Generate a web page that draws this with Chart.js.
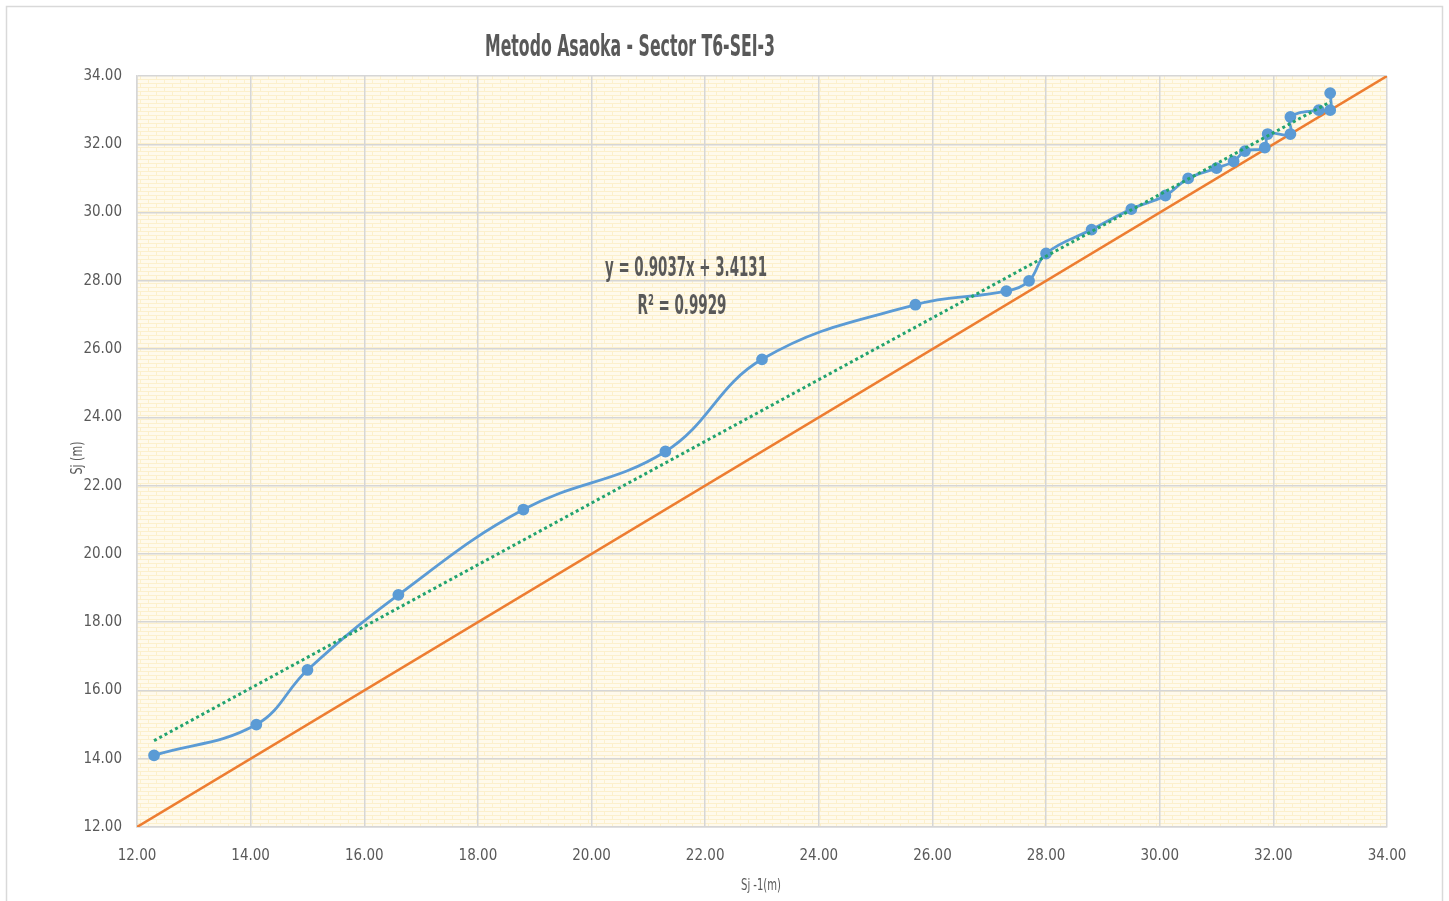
<!DOCTYPE html>
<html>
<head>
<meta charset="utf-8">
<script src="https://cdn.jsdelivr.net/npm/chart.js@4"></script>
<style>
  html, body { margin: 0; padding: 0; background: #ffffff; }
  #wrap { position: relative; width: 1449px; height: 901px; }
  canvas { display: block; }
</style>
</head>
<body>
<div id="wrap"><canvas id="c" width="1449" height="901"></canvas></div>
<script>
// ---- data ----
const chartTitle = "Metodo Asaoka - Sector T6-SEI-3";
const xAxisTitle = "Sj -1(m)";
const yAxisTitle = "Sj (m)";
const equationLine1 = "y = 0.9037x + 3.4131";
const equationLine2 = "R² = 0.9929";

// S(j-1) and S(j), metres
const sjPrev = [12.3, 14.1, 15.0, 16.6, 18.8, 21.3, 23.0, 25.7, 27.3, 27.7, 28.0, 28.8, 29.5, 30.1, 30.5, 31.0, 31.3, 31.5, 31.85, 31.9, 32.3, 32.3, 32.8, 33.0, 33.0];
const sj     = [14.1, 15.0, 16.6, 18.8, 21.3, 23.0, 25.7, 27.3, 27.7, 28.0, 28.8, 29.5, 30.1, 30.5, 31.0, 31.3, 31.5, 31.8, 31.9, 32.3, 32.3, 32.8, 33.0, 33.0, 33.5];

// 45° reference line endpoints (Sj = Sj-1)
const refLineX = [12, 34];
const refLineY = [12, 34];

// linear trend line endpoints as drawn in the reference
const trendX = [12.3, 33.0];
const trendY = [14.53, 33.24];

// axis ticks
const axisMin = 12, axisMax = 34, axisStep = 2;

// ---- build ----
const FONT = '"DejaVu Sans Condensed", "Liberation Sans Narrow", sans-serif';
const TXT = '#595959';

function pairs(xs, ys) { return xs.map((x, i) => ({ x: x, y: ys[i] })); }

function makePattern(ctx) {
  const p = document.createElement('canvas');
  p.width = 16; p.height = 8;
  const g = p.getContext('2d');
  g.fillStyle = '#fffaec';
  g.fillRect(0, 0, 16, 8);
  g.fillStyle = '#fcf0cc';
  g.fillRect(0, 3, 16, 1);
  g.fillRect(0, 7, 16, 1);
  g.fillRect(4, 0, 1, 3);
  g.fillRect(12, 4, 1, 3);
  return ctx.createPattern(p, 'repeat');
}

// draw text horizontally compressed to a target width (reference uses a narrow face)
function fitText(ctx, text, cx, cy, width) {
  const w = ctx.measureText(text).width;
  const k = Math.min(1, width / w);
  ctx.save();
  ctx.translate(cx, cy);
  ctx.scale(k, 1);
  ctx.fillText(text, 0, 0);
  ctx.restore();
}

const decor = {
  id: 'decor',
  beforeDraw(chart) {
    const ctx = chart.ctx;
    const a = chart.chartArea;
    ctx.save();
    ctx.fillStyle = '#ffffff';
    ctx.fillRect(0, 0, chart.width, chart.height);
    ctx.strokeStyle = '#d9d9d9';
    ctx.lineWidth = 1.5;
    ctx.strokeRect(6.5, 6.5, chart.width - 13, chart.height + 20);
    ctx.fillStyle = makePattern(ctx);
    ctx.fillRect(a.left, a.top, a.right - a.left, a.bottom - a.top);
    ctx.restore();
  },
  afterDraw(chart) {
    const ctx = chart.ctx;
    ctx.save();
    ctx.fillStyle = TXT;
    ctx.textAlign = 'center';
    ctx.textBaseline = 'middle';
    // title
    ctx.font = 'bold 31px ' + FONT;
    fitText(ctx, chartTitle, 630, 48, 290);
    // equation
    ctx.font = 'bold 26px ' + FONT;
    fitText(ctx, equationLine1, 686, 269, 162);
    fitText(ctx, equationLine2, 682, 307, 89);
    // axis titles
    ctx.font = '15px ' + FONT;
    fitText(ctx, xAxisTitle, 761, 886, 40);
    ctx.translate(78, 458);
    ctx.rotate(-Math.PI / 2);
    fitText(ctx, yAxisTitle, 0, 0, 33);
    ctx.restore();
  }
};

const ctx = document.getElementById('c').getContext('2d');
new Chart(ctx, {
  type: 'scatter',
  data: {
    datasets: [
      {
        label: 'Sj',
        data: pairs(sjPrev, sj),
        showLine: true,
        tension: 0.4,
        borderColor: '#5b9bd5',
        backgroundColor: '#5b9bd5',
        borderWidth: 2.8,
        pointRadius: 4.5,
        pointHoverRadius: 4.5,
        order: 1
      },
      {
        label: 'Lineal',
        data: pairs(trendX, trendY),
        showLine: true,
        borderColor: '#22a36f',
        borderWidth: 3,
        borderDash: [3, 3],
        pointRadius: 0,
        order: 0
      },
      {
        label: '45°',
        data: pairs(refLineX, refLineY),
        showLine: true,
        borderColor: '#ed7d31',
        borderWidth: 2.5,
        pointRadius: 0,
        order: 2
      }
    ]
  },
  options: {
    responsive: false,
    animation: false,
    layout: { padding: { left: 0, right: 62, top: 76, bottom: 0 } },
    plugins: {
      legend: { display: false },
      title: { display: false },
      tooltip: { enabled: false }
    },
    scales: {
      x: {
        type: 'linear',
        min: axisMin, max: axisMax,
        afterFit(s) { s.height = 74; },
        ticks: {
          stepSize: axisStep,
          padding: 20,
          color: TXT,
          font: { family: FONT, size: 15 },
          callback: v => v.toFixed(2)
        },
        grid: { color: '#d6d6d6', lineWidth: 1.5, drawTicks: false },
        border: { display: true, color: '#d6d6d6', width: 1.5 }
      },
      y: {
        type: 'linear',
        min: axisMin, max: axisMax,
        afterFit(s) { s.width = 137; },
        ticks: {
          stepSize: axisStep,
          padding: 15,
          color: TXT,
          font: { family: FONT, size: 15 },
          callback: v => v.toFixed(2)
        },
        grid: { color: '#d6d6d6', lineWidth: 1.5, drawTicks: false },
        border: { display: true, color: '#d6d6d6', width: 1.5 }
      }
    }
  },
  plugins: [decor]
});
</script>
</body>
</html>
